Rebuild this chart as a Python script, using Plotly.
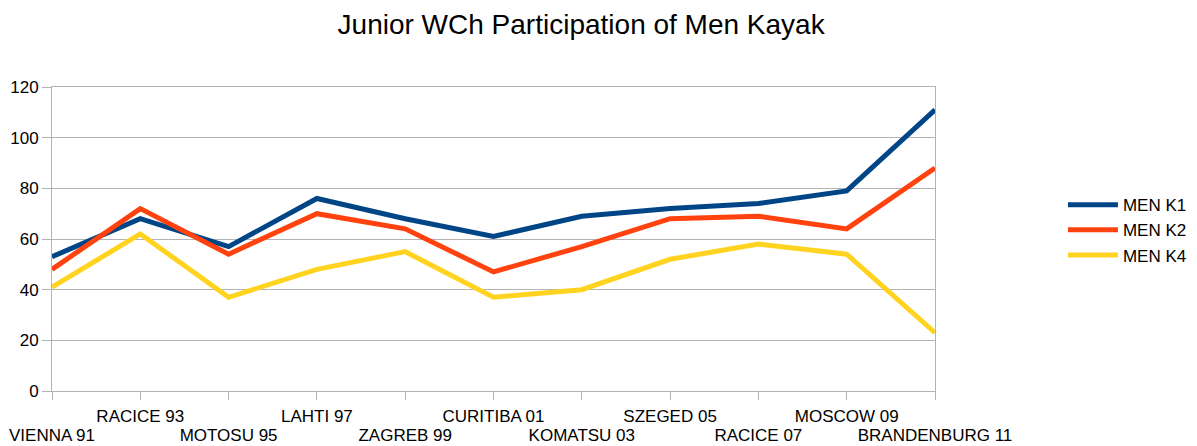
import plotly.graph_objects as go

categories = ["VIENNA 91", "RACICE 93", "MOTOSU 95", "LAHTI 97", "ZAGREB 99", "CURITIBA 01",
              "KOMATSU 03", "SZEGED 05", "RACICE 07", "MOSCOW 09", "BRANDENBURG 11"]
men_k1 = [53, 68, 57, 76, 68, 61, 69, 72, 74, 79, 111]
men_k2 = [48, 72, 54, 70, 64, 47, 57, 68, 69, 64, 88]
men_k4 = [41, 62, 37, 48, 55, 37, 40, 52, 58, 54, 23]
y_ticks = [0, 20, 40, 60, 80, 100, 120]

series = [("MEN K1", men_k1, "#004586"), ("MEN K2", men_k2, "#ff420e"), ("MEN K4", men_k4, "#ffd320")]

x_idx = list(range(len(categories)))
fig = go.Figure()
for name, vals, col in series:
    fig.add_trace(go.Scatter(x=x_idx, y=vals, name=name, mode="lines",
                             line=dict(color=col, width=5)))
# invisible carrier trace for the second (staggered) label row
fig.add_trace(go.Scatter(x=x_idx, y=men_k1, xaxis="x2", mode="lines", showlegend=False,
                         hoverinfo="skip", line=dict(color="rgba(0,0,0,0)", width=0)))

odd_vals = x_idx[1::2]
odd_text = categories[1::2]
even_vals = x_idx[0::2]
even_text = categories[0::2]

fig.update_layout(
    width=1197, height=446,
    paper_bgcolor="white", plot_bgcolor="white",
    font=dict(family="Liberation Sans, Arial, sans-serif", size=17, color="black"),
    title=dict(text="Junior WCh Participation of Men Kayak", x=0.4855, xanchor="center",
               y=0.945, yanchor="middle", font=dict(size=28)),
    margin=dict(l=52, r=262, t=87, b=55),
    legend=dict(xref="container", yref="container", x=0.888, y=0.484, xanchor="left", yanchor="middle",
                font=dict(size=17), tracegroupgap=0, itemwidth=50, bgcolor="rgba(0,0,0,0)"),
    showlegend=True,
    xaxis=dict(range=[0, len(categories) - 1], tickmode="array", tickvals=x_idx,
               ticktext=[c if i % 2 == 1 else "" for i, c in enumerate(categories)],
               showgrid=False, showline=True, linecolor="#b3b3b3", linewidth=1, mirror=True,
               ticks="outside", ticklen=8, tickcolor="#b3b3b3", tickangle=0, zeroline=False,
               automargin=False, ticklabelstandoff=2),
    xaxis2=dict(range=[0, len(categories) - 1], overlaying="x", anchor="y", side="bottom",
                tickmode="array", tickvals=even_vals, ticktext=even_text,
                showgrid=False, showline=False, ticks="outside", ticklen=8,
                tickcolor="rgba(0,0,0,0)", tickangle=0, zeroline=False,
                automargin=False, ticklabelstandoff=21),
    yaxis=dict(range=[0, 120], tickmode="array", tickvals=y_ticks, showgrid=True, gridcolor="#b3b3b3",
               showline=True, linecolor="#b3b3b3", mirror=True, ticks="outside", ticklen=9,
               tickcolor="#b3b3b3", zeroline=False, automargin=False),
)

fig.write_html("out.html", config={"displayModeBar": False},
               post_script="document.body.style.margin='0';document.body.style.overflow='hidden';")
